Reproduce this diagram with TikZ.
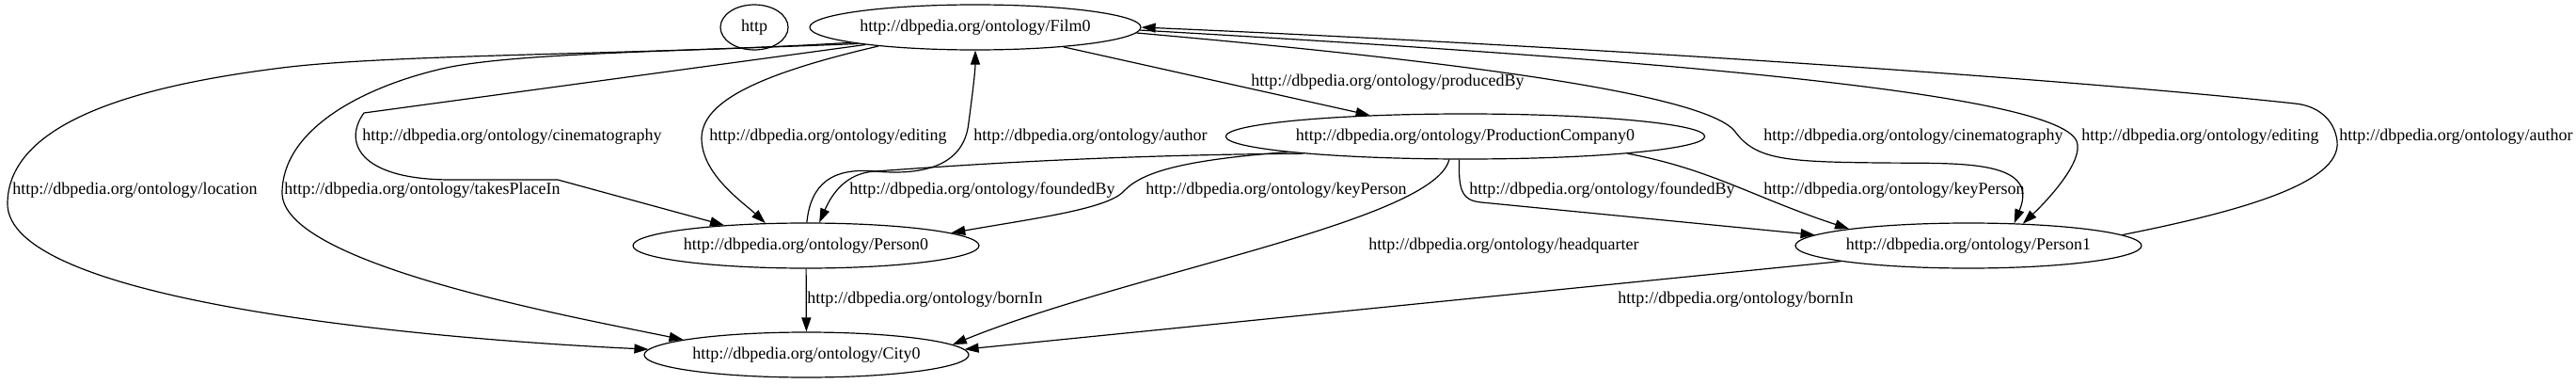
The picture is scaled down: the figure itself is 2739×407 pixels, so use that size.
\documentclass[tikz,border=0pt]{standalone}
\usepackage{fontspec}
\setmainfont{Liberation Serif}
\usetikzlibrary{arrows.meta,shapes.geometric}

\begin{document}
\begin{tikzpicture}[
    x=0.5pt,y=-0.5pt,
    font=\fontsize{9pt}{11pt}\selectfont,
    entity/.style={draw,ellipse,line width=0.6pt,inner sep=0pt,minimum height=24pt},
    edgelabel/.style={anchor=west,inner sep=0pt},
    link/.style={-{Triangle[length=7.5pt,width=5pt]},line width=0.6pt}
  ]
    \useasboundingbox (0,0) rectangle (2739,407);

    \node[entity,minimum width=36pt] (http) at (802,29) {http};
    \node[entity,minimum width=176pt] (film0) at (1037,29) {http://dbpedia.org/ontology/Film0};
    \node[entity,minimum width=250pt] (prod0) at (1558,145) {http://dbpedia.org/ontology/ProductionCompany0};
    \node[entity,minimum width=183pt] (person0) at (857,261) {http://dbpedia.org/ontology/Person0};
    \node[entity,minimum width=184pt] (person1) at (2093,261) {http://dbpedia.org/ontology/Person1};
    \node[entity,minimum width=172.5pt] (city0) at (857.5,377) {http://dbpedia.org/ontology/City0};

    \node[edgelabel] (producedBy) at (1330,87) {http://dbpedia.org/ontology/producedBy};
    \node[edgelabel] (cinema0) at (385,145) {http://dbpedia.org/ontology/cinematography};
    \node[edgelabel] (editing0) at (754,145) {http://dbpedia.org/ontology/editing};
    \node[edgelabel] (author0) at (1035,145) {http://dbpedia.org/ontology/author};
    \node[edgelabel] (cinema1) at (1875,145) {http://dbpedia.org/ontology/cinematography};
    \node[edgelabel] (editing1) at (2213,145) {http://dbpedia.org/ontology/editing};
    \node[edgelabel] (author1) at (2487,145) {http://dbpedia.org/ontology/author};
    \node[edgelabel] (location) at (13,202) {http://dbpedia.org/ontology/location};
    \node[edgelabel] (takesPlace) at (302,202) {http://dbpedia.org/ontology/takesPlaceIn};
    \node[edgelabel] (founded0) at (903,202) {http://dbpedia.org/ontology/foundedBy};
    \node[edgelabel] (keyPerson0) at (1218,202) {http://dbpedia.org/ontology/keyPerson};
    \node[edgelabel] (founded1) at (1562,202) {http://dbpedia.org/ontology/foundedBy};
    \node[edgelabel] (keyPerson1) at (1875,202) {http://dbpedia.org/ontology/keyPerson};
    \node[edgelabel] (headquarter) at (1455,261) {http://dbpedia.org/ontology/headquarter};
    \node[edgelabel] (bornIn0) at (858,318) {http://dbpedia.org/ontology/bornIn};
    \node[edgelabel] (bornIn1) at (1720,318) {http://dbpedia.org/ontology/bornIn};

    \draw[link] (film0) -- (prod0);
    \draw[link] (film0.189) -- (387,120) .. controls (365,150) and (380,191) .. (480,191) -- (593,191) -- (person0.166);
    \draw[link] (film0.191) .. controls (800,80) and (746,110) .. (746,147) .. controls (746,185) and (790,215) .. (person0.151);
    \draw[link] (person0.88) .. controls (862,195) and (885,178) .. (930,182) .. controls (975,186) and (1025,180) .. (1030,130) .. controls (1034,100) and (1037,75) .. (film0.south);
    \draw[link] (film0.187) .. controls (700,58) and (420,57) .. (300,72) .. controls (180,87) and (10,120) .. (8,215) .. controls (4,320) and (450,360) .. (city0.178);
    \draw[link] (film0.188) .. controls (700,55) and (540,57) .. (470,73) .. controls (380,94) and (300,140) .. (300,205) .. controls (300,280) and (600,335) .. (city0.173);

    \draw[link] (prod0.186) .. controls (1150,165) and (990,178) .. (930,182) .. controls (900,184) and (885,205) .. (person0.60);
    \draw[link] (prod0.185) .. controls (1260,170) and (1215,182) .. (1195,203) .. controls (1178,222) and (1100,232) .. (person0.5);
    \draw[link] (prod0.235) .. controls (1525,235) and (1200,290) .. (city0.4);
    \draw[link] (prod0.255) .. controls (1551,200) and (1553,213) .. (1575,215) -- (person1.176);
    \draw[link] (prod0.354) .. controls (1820,180) and (1865,210) .. (person1.172);

    \draw[link] (film0.-2) .. controls (1550,65) and (1815,100) .. (1845,140) .. controls (1867,170) and (1900,172) .. (2000,173) .. controls (2080,174) and (2170,168) .. (person1.26);
    \draw[link] (film0.-1) .. controls (1700,60) and (2185,95) .. (2208,150) .. controls (2216,170) and (2180,210) .. (person1.22);
    \draw[link] (person1.4) .. controls (2380,225) and (2490,195) .. (2485,150) .. controls (2482,125) and (2462,112) .. (2440,110) .. controls (2200,84) and (1700,50) .. (film0.east);

    \draw[link] (person0) -- (city0);
    \draw[link] (person1.187) -- (city0.2);
\end{tikzpicture}
\end{document}
